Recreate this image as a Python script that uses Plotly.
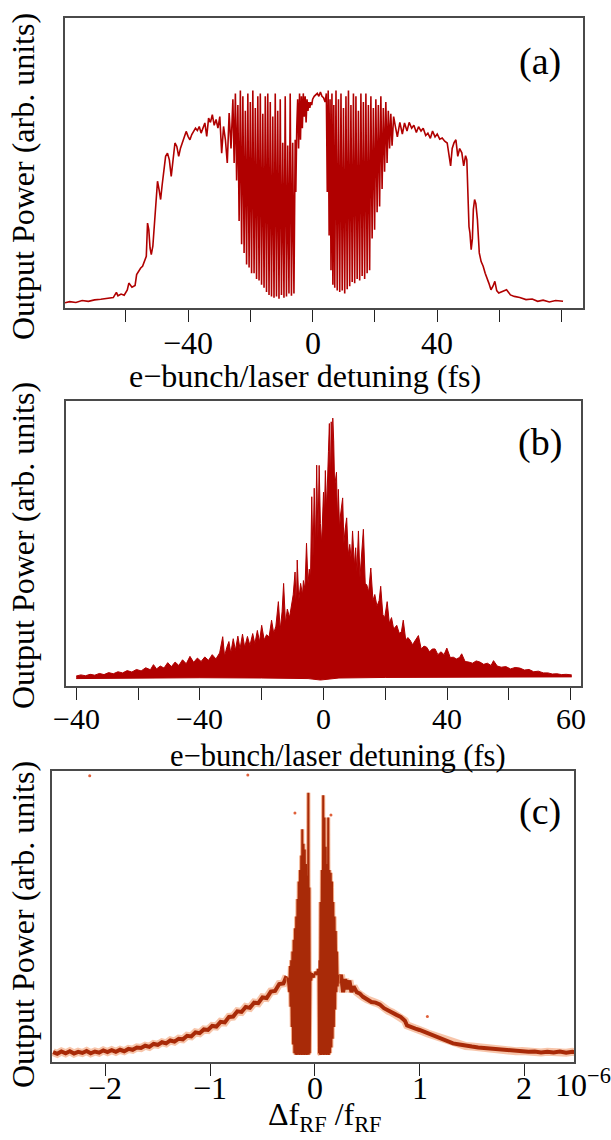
import plotly.graph_objects as go

W, H = 611, 1140
FONT = "Liberation Serif"
RED = "#B00000"
BROWN = "#A82A08"
HALO = "rgba(240,150,100,0.55)"

# ---------------- panel (a): (detuning fs, power) ----------------
A_LEFT_WING = [
    (-79.5, 1.8), (-78, 2.2), (-76, 1.9), (-74, 2.6), (-72, 2.3), (-70, 2.8), (-68, 3.0), (-66, 3.4),
    (-64, 3.6), (-63, 5.4), (-62.5, 4.2), (-61.5, 4.8), (-60.5, 4.4), (-59.5, 6.2), (-59, 8.6), (-58, 7.2),
    (-57, 7.8), (-56.5, 11.5), (-56, 12.6), (-55.2, 13.8), (-54.6, 14.4), (-54, 16.5), (-53.4, 17.8),
    (-53, 29.3), (-52.6, 27.0), (-52.2, 20.7), (-51.8, 18.4), (-51.3, 21.3), (-50.8, 28.0), (-50.3, 35.0),
    (-49.8, 43.7), (-49.3, 40.8), (-48.8, 37.4), (-48.3, 42.5), (-47.8, 47.0), (-47.2, 52.3), (-46.6, 53.4),
    (-46.0, 51.1), (-45.4, 45.4), (-44.8, 52.3), (-44.2, 56.9), (-43.6, 55.7), (-43.0, 52.3), (-42.4, 55.2),
    (-41.8, 57.0), (-41.2, 58.5), (-40.6, 60.9), (-40.0, 59.2), (-39.4, 58.0), (-38.8, 59.8), (-38.2, 61.0),
    (-37.6, 62.0), (-37.0, 61.2), (-36.4, 62.6), (-35.8, 60.3), (-35.2, 62.5), (-34.6, 63.8), (-34.0, 59.2),
    (-33.4, 65.5), (-32.8, 64.0), (-32.2, 66.7), (-31.6, 63.0), (-31.0, 65.0), (-30.4, 62.0), (-29.8, 66.0),
    (-29.2, 53.4), (-28.6, 62.6), (-28.0, 58.0), (-27.4, 50.0), (-26.8, 67.2), (-26.2, 55.0),
]
A_LEFT_OSC = [
    (-25.6, 72), (-25.2, 50), (-24.8, 74), (-24.4, 44), (-24.0, 70), (-23.6, 30), (-23.2, 75), (-22.8, 22),
    (-22.4, 73), (-22.0, 19), (-21.6, 68), (-21.2, 15), (-20.8, 74), (-20.4, 14), (-20.0, 71), (-19.6, 12),
    (-19.2, 75), (-18.8, 12), (-18.4, 69), (-18.0, 10), (-17.6, 73), (-17.2, 9.5), (-16.8, 74), (-16.4, 8),
    (-16.0, 67), (-15.6, 7), (-15.2, 73), (-14.8, 5.5), (-14.4, 74), (-14.0, 4.5), (-13.6, 71), (-13.2, 4),
    (-12.8, 66), (-12.4, 3.5), (-12.0, 74), (-11.6, 4), (-11.2, 68), (-10.8, 3.2), (-10.4, 72), (-10.0, 4.5),
    (-9.6, 57), (-9.2, 3.5), (-8.8, 73), (-8.4, 4), (-8.0, 56), (-7.6, 5), (-7.2, 74), (-6.8, 4.2),
    (-6.4, 57), (-6.0, 5), (-5.6, 58), (-5.4, 40),
]
A_CENTER = [
    (-5.1, 62), (-4.8, 72), (-4.5, 55), (-4.2, 74), (-3.9, 58), (-3.6, 73), (-3.3, 62), (-3.0, 74),
    (-2.7, 66), (-2.4, 73), (-2.1, 64), (-1.8, 72), (-1.5, 68), (-1.2, 71), (-0.9, 69), (-0.6, 71),
    (-0.3, 70), (0.0, 72), (0.5, 73), (1.0, 73.5), (1.5, 74), (2.0, 73), (2.5, 74.5), (3.0, 73),
    (3.5, 72.5), (4.0, 71),
]
A_RIGHT_OSC = [
    (4.4, 74), (4.7, 40), (5.0, 75), (5.3, 25), (5.6, 72), (5.9, 13), (6.2, 74), (6.5, 8), (6.8, 70),
    (7.1, 7), (7.5, 75), (7.9, 6), (8.3, 72), (8.7, 5.5), (9.1, 74), (9.5, 6), (9.9, 69), (10.3, 5),
    (10.7, 73), (11.1, 6.5), (11.5, 75), (11.9, 7.5), (12.3, 70), (12.7, 9), (13.1, 74), (13.5, 8.5),
    (13.9, 73), (14.3, 10), (14.7, 68), (15.1, 9.5), (15.5, 74), (15.9, 11), (16.3, 71), (16.7, 10),
    (17.1, 74), (17.5, 12), (17.9, 70), (18.3, 13), (18.7, 73), (19.1, 24), (19.5, 69), (19.9, 27),
    (20.3, 72), (20.7, 33), (21.1, 70), (21.5, 35), (21.9, 73), (22.3, 41), (22.7, 69), (23.1, 47),
    (23.5, 71), (23.9, 50), (24.3, 68), (24.7, 55), (25.1, 67), (25.5, 56), (26.0, 66),
]
A_RIGHT_WING = [
    (26.5, 63), (27.2, 59), (28.0, 64), (28.8, 60), (29.5, 63.8), (30.3, 61), (31.0, 64), (31.8, 62),
    (32.5, 63), (33.3, 60.5), (34.0, 62.5), (34.8, 61), (35.5, 62), (36.3, 59.5), (37.0, 60.3),
    (37.8, 58.5), (38.5, 61), (39.3, 59), (40.0, 60), (40.8, 58.2), (41.6, 58.6), (42.4, 57.5),
    (43.2, 56.9), (43.8, 53), (44.3, 49), (44.8, 55), (45.4, 57), (46.0, 58), (46.6, 52.3), (47.2, 55),
    (47.9, 53.5), (48.5, 49), (49.1, 52.5), (49.5, 51.1), (49.8, 37.4), (50.2, 28), (50.5, 25.9),
    (50.9, 20.1), (51.3, 24), (51.6, 34), (52.0, 37.4), (52.4, 36), (52.9, 30.5), (53.2, 25), (53.5, 19),
    (54.1, 16), (54.75, 14.4), (55.4, 12), (56.0, 9.8), (56.6, 8.5), (57.25, 6.3), (57.9, 7.5),
    (58.5, 9.2), (59.1, 6), (59.75, 5.2), (61.0, 5.8), (62.25, 6.3), (63.5, 4.5), (64.75, 4.0),
    (66.5, 3.6), (68.5, 2.9), (70.5, 3.1), (72.25, 2.3), (74.0, 2.7), (76.0, 2.1), (78.0, 2.6), (80.4, 2.3),
]
A_TICKS = [-60, -40, -20, 0, 20, 40, 60, 80]
A_LABEL_VALS = [-40, 0, 40]
A_LABELS = ["\u221240", "0", "40"]

# ---------------- panel (b): spiky upper edge and baseline ----------------
B_TOP = [
    (-80, 3.5), (-78.5, 3.9), (-77, 3.6), (-75.5, 4.1), (-74, 3.8), (-72.5, 4.4), (-71, 4.0), (-69.5, 4.7),
    (-68, 4.3), (-66.5, 5.0), (-65, 4.6), (-63.5, 5.4), (-62, 4.9), (-60.5, 5.8), (-59, 5.3), (-57.5, 6.4),
    (-56, 5.7), (-55, 7.5), (-54, 6.0), (-52.8, 7.0), (-51.6, 6.3), (-50.4, 8.2), (-49.2, 6.8), (-48, 8.4),
    (-46.8, 7.2), (-45.6, 9.2), (-44.4, 7.8), (-43.2, 10.4), (-42, 8.3), (-40.8, 9.8), (-39.6, 8.6),
    (-38.4, 10.2), (-37.2, 9.0), (-36, 11.0), (-34.8, 9.5), (-33.6, 11.6), (-32.6, 17.3), (-32.0, 10.4),
    (-31.3, 13.5), (-30.6, 15.6), (-30, 11.5), (-29.2, 16.6), (-28.5, 12.5), (-27.7, 17.5), (-27, 13.0),
    (-26.2, 18.2), (-25.5, 13.6), (-24.6, 17.4), (-23.8, 14.2), (-22.9, 18.4), (-22.2, 14.8), (-21.4, 19.5),
    (-20.7, 15.5), (-20, 21.3), (-19.2, 16.2), (-18.4, 18.0), (-17.6, 17.2), (-16.8, 23.1), (-16.1, 18.5),
    (-15.4, 21.0), (-14.6, 29.6), (-14.0, 19.8), (-13.4, 26.0), (-12.9, 36.0), (-12.3, 22.0), (-11.7, 27.0),
    (-11.0, 24.0), (-10.4, 28.5), (-9.8, 32.0), (-9.2, 40.0), (-8.8, 27.0), (-8.5, 44.2), (-8.0, 30.0),
    (-7.4, 36.0), (-6.8, 32.0), (-6.5, 37.0), (-6.0, 34.0), (-5.5, 50.1), (-5.0, 36.0), (-4.6, 41.0),
    (-4.2, 38.0), (-3.8, 66.4), (-3.4, 45.0), (-3.0, 69.4), (-2.6, 48.0), (-2.2, 77.5), (-1.8, 52.0),
    (-1.4, 77.4), (-1.0, 57.0), (-0.6, 50.0), (-0.2, 62.0), (0.0, 68.0), (0.3, 60.0), (0.6, 75.6),
    (1.0, 62.0), (1.3, 77.0), (1.6, 82.2), (1.9, 92.1), (2.2, 70.0), (2.5, 92.7), (2.8, 75.0), (3.0, 94.0),
    (3.3, 86.0), (3.6, 70.0), (4.2, 75.0), (4.5, 58.0), (4.8, 69.0), (5.2, 55.0), (5.5, 60.0), (6.2, 66.0),
    (6.6, 50.0), (7.0, 55.0), (7.5, 59.0), (8.0, 46.0), (8.5, 49.7), (9.0, 44.0), (9.4, 54.4), (10.0, 42.0),
    (10.4, 48.5), (10.8, 40.0), (11.3, 54.4), (11.8, 38.0), (12.2, 43.7), (12.9, 55.0), (13.5, 36.0),
    (14.0, 35.5), (14.6, 33.0), (15.3, 41.4), (16.0, 30.0), (16.6, 32.1), (17.3, 28.0), (18.0, 30.0),
    (18.5, 35.0), (19.2, 25.0), (19.8, 24.0), (20.6, 29.6), (21.3, 22.0), (22.0, 24.0), (22.7, 20.0),
    (23.7, 21.3), (24.5, 18.5), (25.2, 19.0), (25.8, 23.1), (26.6, 16.1), (27.3, 17.0), (28.0, 16.1),
    (28.8, 14.5), (29.6, 16.0), (30.7, 17.7), (31.6, 13.0), (32.5, 14.0), (33.4, 13.6), (34.3, 12.0),
    (35.2, 13.0), (36.1, 13.0), (37.0, 11.0), (38.0, 12.0), (39.0, 11.0), (39.9, 13.3), (41.0, 10.0),
    (42.0, 10.1), (43.0, 9.5), (44.0, 10.0), (44.7, 11.3), (45.8, 8.6), (47.0, 8.4), (48.2, 8.0),
    (49.4, 8.8), (50.6, 8.4), (51.8, 7.6), (53.0, 8.0), (54.2, 7.2), (55.0, 8.9), (56.2, 7.0), (57.5, 6.6),
    (59.0, 6.8), (60.5, 6.0), (62.0, 6.5), (63.5, 6.3), (65.0, 5.6), (66.5, 5.8), (68.0, 5.0), (69.5, 5.2),
    (71.1, 4.6), (72.6, 4.6), (74.0, 4.2), (75.5, 4.3), (77.0, 4.0), (78.5, 4.1), (80.3, 3.9),
]
B_BASE = [
    (-80, 2.6), (-60, 2.8), (-40, 2.9), (-20, 2.8), (-5, 2.6), (-1, 2.1), (1, 2.3), (5, 2.8),
    (20, 3.0), (40, 3.0), (60, 3.0), (80.3, 3.2),
]
B_TICKS = [-80, -60, -40, -20, 0, 20, 40, 60, 80]
B_LABEL_VALS = [-80, -40, 0, 40, 80]
B_LABELS = ["\u221240", "\u221240", "0", "40", "60"]

# ---------------- panel (c): (df/f in 1e-6, power) ----------------
C_LEFT_WING = [
    (-2.50, 3.4), (-2.46, 2.8), (-2.42, 3.6), (-2.38, 3.0), (-2.34, 3.7), (-2.30, 2.9), (-2.26, 3.5),
    (-2.22, 3.1), (-2.18, 3.8), (-2.14, 3.0), (-2.10, 3.6), (-2.06, 3.2), (-2.02, 4.0), (-1.98, 3.4),
    (-1.94, 4.1), (-1.90, 3.5), (-1.86, 4.2), (-1.82, 3.7), (-1.78, 4.5), (-1.74, 4.2), (-1.70, 5.0),
    (-1.66, 4.8), (-1.62, 5.6), (-1.58, 5.2), (-1.54, 6.2), (-1.50, 5.9), (-1.46, 6.8), (-1.42, 6.4),
    (-1.38, 7.4), (-1.34, 7.0), (-1.30, 8.0), (-1.26, 7.8), (-1.22, 9.0), (-1.18, 8.8), (-1.14, 10.2),
    (-1.10, 9.9), (-1.06, 11.2), (-1.02, 11.0), (-0.98, 12.4), (-0.94, 12.2), (-0.90, 13.8), (-0.86, 13.6),
    (-0.82, 15.5), (-0.78, 15.6), (-0.74, 17.4), (-0.70, 17.2), (-0.66, 18.9), (-0.62, 18.6), (-0.58, 20.4),
    (-0.54, 20.2), (-0.50, 22.2), (-0.46, 22.0), (-0.42, 24.2), (-0.38, 24.4), (-0.34, 26.8), (-0.30, 27.0),
    (-0.27, 29.5),
]
C_CORE = [
    (-0.26, 29), (-0.245, 24), (-0.238, 33), (-0.232, 19), (-0.226, 35), (-0.22, 12), (-0.214, 38),
    (-0.208, 6), (-0.202, 42), (-0.196, 3), (-0.19, 46), (-0.184, 2.5), (-0.178, 50), (-0.172, 2.4),
    (-0.166, 56), (-0.16, 2.6), (-0.154, 62), (-0.148, 2.4), (-0.142, 66), (-0.136, 2.5), (-0.13, 71),
    (-0.124, 2.4), (-0.12, 80), (-0.114, 2.6), (-0.108, 75), (-0.102, 2.4), (-0.096, 73), (-0.09, 2.5),
    (-0.084, 68), (-0.078, 2.4), (-0.072, 64), (-0.066, 2.6), (-0.062, 92.5), (-0.058, 2.5), (-0.052, 60),
    (-0.048, 3), (-0.042, 31), (-0.035, 28), (-0.025, 30.5), (-0.01, 29), (0.005, 31), (0.02, 30),
    (0.03, 32), (0.036, 30), (0.04, 3), (0.044, 35), (0.048, 2.5), (0.054, 55), (0.06, 2.4), (0.067, 66),
    (0.073, 2.5), (0.08, 91.7), (0.086, 2.4), (0.092, 84), (0.098, 2.6), (0.104, 74), (0.11, 2.4),
    (0.116, 68), (0.122, 2.5), (0.128, 84), (0.134, 2.4), (0.14, 66), (0.146, 3), (0.152, 65), (0.158, 5),
    (0.164, 62), (0.17, 8), (0.176, 55), (0.182, 12), (0.188, 50), (0.194, 18), (0.2, 45), (0.206, 24),
    (0.212, 38), (0.218, 26), (0.224, 30),
]
C_RIGHT_WING = [
    (0.23, 27), (0.25, 30), (0.27, 24), (0.29, 28.5), (0.31, 25), (0.33, 28), (0.35, 24), (0.37, 26),
    (0.40, 24), (0.43, 23.5), (0.46, 22.4), (0.50, 21.5), (0.54, 20.6), (0.58, 20.4), (0.62, 19.8),
    (0.66, 18.5), (0.70, 17.6), (0.74, 17.0), (0.78, 16.2), (0.82, 15.5), (0.86, 14.2), (0.88, 12.6),
    (0.92, 12.2), (0.96, 11.5), (1.00, 11.0), (1.04, 10.4), (1.08, 9.8), (1.12, 9.3), (1.16, 8.7),
    (1.20, 8.0), (1.24, 7.5), (1.28, 7.0), (1.32, 6.4), (1.38, 6.0), (1.44, 5.5), (1.50, 5.3), (1.56, 5.0),
    (1.62, 4.8), (1.68, 4.5), (1.74, 4.4), (1.80, 4.1), (1.86, 4.0), (1.92, 3.7), (1.98, 3.8), (2.04, 3.5),
    (2.10, 3.6), (2.16, 3.3), (2.22, 3.5), (2.28, 3.3), (2.34, 3.6), (2.40, 3.2), (2.46, 3.5), (2.50, 3.4),
]
C_SPECKS = [(-2.15, 98.4), (-0.64, 98.6), (-0.19, 85.6), (0.154, 84.9), (1.075, 15.6)]
C_TICKS = [-2, -1, 0, 1, 2]
C_LABEL_VALS = [-2, -1, 0, 1, 2]
C_LABELS = ["\u22122", "\u22121", "0", "1", "2"]


def unzip(pairs):
    return [p[0] for p in pairs], [p[1] for p in pairs]


def px(xp):
    return xp / W


def py(yp):
    return 1 - yp / H


fig = go.Figure()

# panel (a)
ax_, ay_ = unzip(A_LEFT_WING + A_LEFT_OSC + A_CENTER + A_RIGHT_OSC + A_RIGHT_WING)
fig.add_trace(go.Scatter(x=ax_, y=ay_, mode="lines", line=dict(color=RED, width=1.6),
                         xaxis="x", yaxis="y", showlegend=False))

# panel (b)
bbx, bby = unzip(B_BASE)
btx, bty = unzip(B_TOP)
fig.add_trace(go.Scatter(x=bbx, y=bby, mode="lines", line=dict(color=RED, width=1),
                         xaxis="x2", yaxis="y2", showlegend=False))
fig.add_trace(go.Scatter(x=btx, y=bty, mode="lines", line=dict(color=RED, width=1),
                         fill="tonexty", fillcolor=RED, xaxis="x2", yaxis="y2", showlegend=False))

# panel (c)
for seg in (C_LEFT_WING, C_RIGHT_WING):
    sx, sy = unzip(seg)
    fig.add_trace(go.Scatter(x=sx, y=sy, mode="lines", line=dict(color=HALO, width=8),
                             xaxis="x3", yaxis="y3", showlegend=False))
    fig.add_trace(go.Scatter(x=sx, y=sy, mode="lines", line=dict(color=BROWN, width=4),
                             xaxis="x3", yaxis="y3", showlegend=False))
cx, cy = unzip(C_CORE)
fig.add_trace(go.Scatter(x=cx, y=cy, mode="lines", line=dict(color="rgba(240,140,90,0.7)", width=4),
                         xaxis="x3", yaxis="y3", showlegend=False))
fig.add_trace(go.Scatter(x=cx, y=cy, mode="lines", line=dict(color=BROWN, width=2),
                         xaxis="x3", yaxis="y3", showlegend=False))
spx, spy = unzip(C_SPECKS)
fig.add_trace(go.Scatter(x=spx, y=spy, mode="markers", marker=dict(color="#E0603A", size=3),
                         xaxis="x3", yaxis="y3", showlegend=False))

FRAME = "#4a4a4a"


def xax(dom, rng, tv):
    return dict(domain=dom, range=rng, showline=True, mirror=True, linecolor=FRAME, linewidth=1.6,
                ticks="outside", ticklen=12, tickwidth=1.4, tickcolor="#222",
                tickmode="array", tickvals=tv, showticklabels=False,
                showgrid=False, zeroline=False, fixedrange=True)


def yax(dom, anchor):
    return dict(domain=dom, range=[0, 100], showline=True, mirror=True, linecolor=FRAME,
                linewidth=1.6, showticklabels=False, ticks="", showgrid=False, zeroline=False,
                anchor=anchor)


fig.update_layout(
    width=W, height=H, margin=dict(l=0, r=0, t=0, b=0),
    paper_bgcolor="white", plot_bgcolor="white",
    xaxis=dict(**xax([px(65), px(583)], [-79.5, 86.8], A_TICKS), anchor="y"),
    yaxis=yax([py(308), py(18)], "x"),
    xaxis2=dict(**xax([px(66), px(581)], [-83.3, 83.3], B_TICKS), anchor="y2"),
    yaxis2=yax([py(686), py(401)], "x2"),
    xaxis3=dict(**xax([px(52), px(574)], [-2.51, 2.475], C_TICKS), anchor="y3"),
    yaxis3=yax([py(1062), py(771)], "x3"),
)

ann = []


def add_text(text, xp, yp, size, angle=0, xanchor="center", yanchor="middle"):
    ann.append(dict(text=text, x=px(xp), y=py(yp), xref="paper", yref="paper", showarrow=False,
                    xanchor=xanchor, yanchor=yanchor, textangle=angle,
                    font=dict(family=FONT, size=size, color="black")))


def add_ticklabels(vals, labels, xref, yp, size):
    for v, t in zip(vals, labels):
        ann.append(dict(text=t, x=v, y=py(yp), xref=xref, yref="paper", showarrow=False,
                        xanchor="center", yanchor="middle",
                        font=dict(family=FONT, size=size, color="black")))


add_ticklabels(A_LABEL_VALS, A_LABELS, "x", 343, 32)
add_ticklabels(B_LABEL_VALS, B_LABELS, "x2", 718, 30)
add_ticklabels(C_LABEL_VALS, C_LABELS, "x3", 1088, 32)

add_text("Output Power (arb. units)", 23, 177, 32, angle=-90)
add_text("Output Power (arb. units)", 23, 546, 32, angle=-90)
add_text("Output Power (arb. units)", 23, 925, 32, angle=-90)
add_text("(a)", 540, 61, 38)
add_text("(b)", 540, 442, 38)
add_text("(c)", 540, 811, 38)
add_text("e\u2212bunch/laser detuning (fs)", 305, 376, 32)
add_text("e\u2212bunch/laser detuning (fs)", 338, 756, 30.5)
add_text("\u0394f<sub>RF</sub> /f<sub>RF</sub>", 325, 1139, 32, yanchor="bottom")
add_text("10<sup>\u22126</sup>", 553, 1083, 32, xanchor="left")
fig.update_layout(annotations=ann)

fig.write_html("out.html")
